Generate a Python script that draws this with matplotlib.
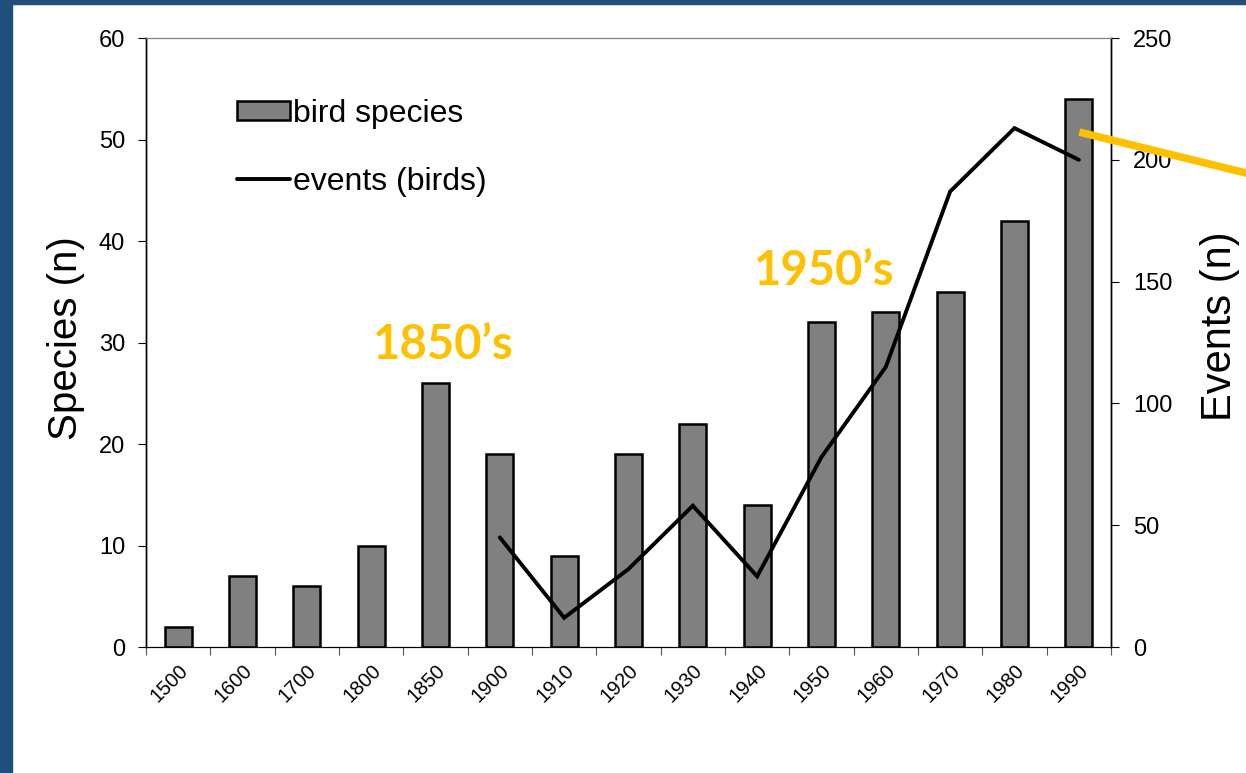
import numpy as np
import matplotlib
matplotlib.use('Agg')
import matplotlib.pyplot as plt
from matplotlib.patches import Rectangle
from matplotlib.lines import Line2D

# data
periods = ['1500', '1600', '1700', '1800', '1850', '1900', '1910', '1920',
           '1930', '1940', '1950', '1960', '1970', '1980', '1990']
species = [2, 7, 6, 10, 26, 19, 9, 19, 22, 14, 32, 33, 35, 42, 54]
event_periods = ['1900', '1910', '1920', '1930', '1940', '1950', '1960',
                 '1970', '1980', '1990']
events = [45, 12, 32, 58, 29, 78, 115, 187, 213, 200]

plt.rcParams['font.family'] = ['Liberation Sans', 'DejaVu Sans']

fig = plt.figure(figsize=(12.46, 7.73), dpi=100)
fig.patch.set_facecolor('white')
# dark blue slide border (left and top)
fig.patches.append(Rectangle((0, 0), 12 / 1246, 1, transform=fig.transFigure,
                             color='#1F4E79', zorder=0))
fig.patches.append(Rectangle((0, 1 - 4 / 773), 1, 4 / 773, transform=fig.transFigure,
                             color='#1F4E79', zorder=0))

ax = fig.add_axes([146 / 1246, 1 - 647 / 773, (1111 - 146) / 1246, (647 - 38) / 773])
ax2 = ax.twinx()

x = np.arange(len(periods))
bars = ax.bar(x, species, width=0.42, color='#808080', edgecolor='black',
              linewidth=1.8, label='bird species', zorder=2)

ex = [periods.index(p) for p in event_periods]
line, = ax2.plot(ex, events, color='black', linewidth=2.8, label='events (birds)',
                 solid_capstyle='round', solid_joinstyle='miter')

ax.set_xlim(-0.5, len(periods) - 0.5)
ax.set_ylim(0, 60)
ax2.set_ylim(0, 250)
ax.set_yticks(np.arange(0, 61, 10))
ax2.set_yticks(np.arange(0, 251, 50))

# category ticks between bars, labels at centres
ax.set_xticks(np.arange(-0.5, len(periods), 1))
ax.set_xticklabels([])
ax.set_xticks(x, minor=True)
ax.set_xticklabels(periods, minor=True, rotation=45, ha='right', va='top',
                   rotation_mode='anchor', fontsize=14.5)
ax.tick_params(axis='x', which='minor', length=0, pad=10)
ax.tick_params(axis='x', which='major', length=6, direction='out', color='#555555')

ax.tick_params(axis='y', length=6, direction='out', labelsize=17, pad=9)
ax2.tick_params(axis='y', length=6, direction='out', labelsize=17, pad=10)

for a in (ax, ax2):
    a.spines['top'].set_color('#808080')
    a.spines['left'].set_color('black')
    a.spines['right'].set_color('black')
    a.spines['bottom'].set_color('black')
    a.spines['left'].set_linewidth(1.0)
    a.spines['right'].set_linewidth(1.0)

ax.set_ylabel('Species (n)', fontsize=29)
ax.yaxis.set_label_coords(-0.063, 0.508)
ax2.set_ylabel('Events (n)', fontsize=30)
ax2.yaxis.set_label_coords(1.092, 0.527)

# annotations
ax.text(4.12, 29.8, '1850\u2019s', color='#FFC000', fontsize=34, fontweight='bold',
        family='Lato', ha='center', va='center', zorder=5)
ax.text(10.04, 37.0, '1950\u2019s', color='#FFC000', fontsize=34, fontweight='bold',
        family='Lato', ha='center', va='center', zorder=5)

# yellow pointer line leaving the chart to the right
fig.add_artist(Line2D([1083 / 1246, 1.0], [1 - 133 / 773, 1 - 173 / 773],
                      color='#FFC000', linewidth=5.5, transform=fig.transFigure,
                      zorder=10))

leg = ax2.legend([bars, line], ['bird species', 'events (birds)'],
                 loc='upper left', bbox_to_anchor=(0.081, 0.921), frameon=False,
                 fontsize=23, handlelength=1.66, handleheight=0.55,
                 handletextpad=0.1, labelspacing=1.19, borderaxespad=0)

fig.savefig('out.png', dpi=100)
